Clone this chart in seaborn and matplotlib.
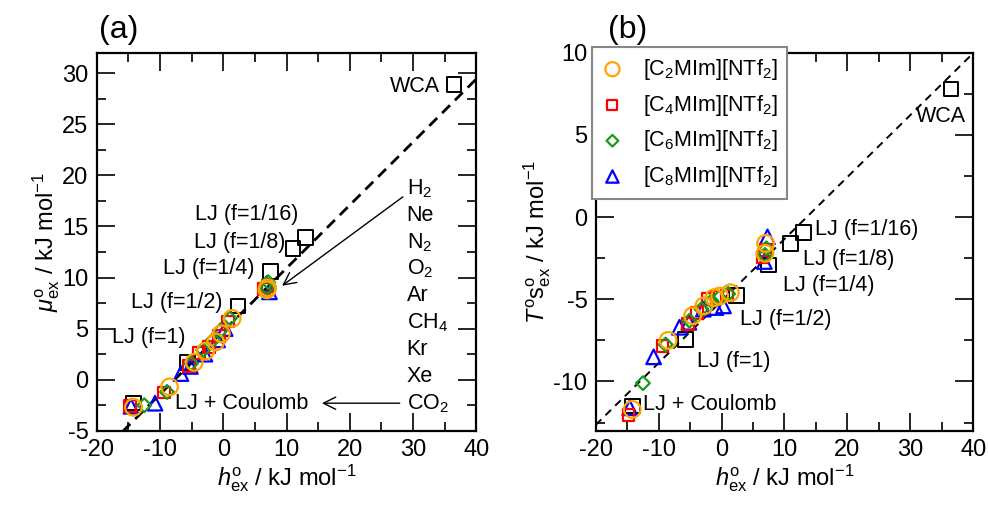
import matplotlib
matplotlib.use('Agg')
import numpy as np
import matplotlib.pyplot as plt
import seaborn as sns
from matplotlib.ticker import MultipleLocator


#%% Data

# solutes, in the order H2, Ne, N2, O2, Ar, CH4, Kr, Xe, CO2
solutes = ['H$_2$', 'Ne', 'N$_2$', 'O$_2$', 'Ar', 'CH$_4$', 'Kr', 'Xe', 'CO$_2$']

h_c2 = [7.0, 6.9, 1.4, -0.3, -1.2, -2.8, -4.6, -8.5, -14.2]
mu_c2 = [9.0, 8.8, 6.0, 4.5, 3.7, 2.8, 1.7, -0.7, -2.7]
ts_c2 = [-1.6, -2.2, -4.6, -4.8, -4.9, -5.4, -6.0, -7.5, -11.7]

h_c4 = [7.0, 6.5, 0.8, -0.7, -2.2, -3.9, -5.4, -9.4, -14.8]
mu_c4 = [9.2, 8.9, 5.7, 4.3, 3.2, 2.6, 1.35, -1.25, -2.6]
ts_c4 = [-2.0, -2.4, -4.77, -4.87, -4.97, -5.85, -6.5, -7.85, -12.05]

h_c6 = [7.1, 6.9, 1.05, -0.4, -1.6, -3.2, -5.1, -8.9, -12.5]
mu_c6 = [9.55, 9.0, 6.0, 4.85, 3.9, 2.9, 1.6, -1.2, -2.5]
ts_c6 = [-1.9, -2.3, -4.67, -4.9, -5.1, -5.6, -6.3, -7.75, -10.1]

h_c8 = [7.3, 6.8, 0.3, -0.9, -2.9, -5.2, -6.7, -10.8, -14.6]
mu_c8 = [8.6, 9.4, 5.0, 3.9, 2.5, 1.3, 0.6, -2.3, -2.6]
ts_c8 = [-1.2, -2.7, -5.4, -5.5, -5.6, -6.4, -6.7, -8.5, -11.6]

# model solutes (black squares)
lj_labels = ['WCA', 'LJ (f=1/16)', 'LJ (f=1/8)', 'LJ (f=1/4)', 'LJ (f=1/2)', 'LJ (f=1)', 'LJ + Coulomb']
h_lj = [36.5, 13.0, 11.0, 7.5, 2.35, -5.7, -14.2]
mu_lj = [28.9, 13.9, 12.85, 10.6, 7.2, 1.7, -2.3]
ts_lj = [7.8, -0.95, -1.6, -2.9, -4.77, -7.45, -11.5]

# dashed lines: intercept, slope
fit_mu = (4.75, 0.617)
fit_ts = (-5.1, 0.377)

il_labels = ['[C$_2$MIm][NTf$_2$]', '[C$_4$MIm][NTf$_2$]',
             '[C$_6$MIm][NTf$_2$]', '[C$_8$MIm][NTf$_2$]']


#%% Style

sns.set_style('ticks')
plt.rcParams['font.family'] = ['Liberation Sans', 'DejaVu Sans']
plt.rcParams['mathtext.fontset'] = 'custom'
plt.rcParams['mathtext.rm'] = 'Liberation Sans'
plt.rcParams['mathtext.it'] = 'Liberation Sans:italic'
plt.rcParams['mathtext.bf'] = 'Liberation Sans:bold'
plt.rcParams['axes.unicode_minus'] = False
plt.rcParams['text.color'] = 'black'
plt.rcParams['axes.labelcolor'] = 'black'

FS_TICK = 17
FS_TXT = 15.5

# drawing order: C8, C4, C6, C2 (orange on top)
series = [
    (il_labels[3], h_c8, mu_c8, ts_c8, '#0000ff', '^', 10.5),
    (il_labels[1], h_c4, mu_c4, ts_c4, '#ff0000', 's', 8.5),
    (il_labels[2], h_c6, mu_c6, ts_c6, '#1a9a1a', 'D', 7.0),
    (il_labels[0], h_c2, mu_c2, ts_c2, '#ffa500', 'o', 12.0),
]

fig = plt.figure(figsize=(9.88, 5.08), dpi=100)
ax_a = fig.add_axes([0.098, 0.152, 0.384, 0.744])
ax_b = fig.add_axes([0.603, 0.152, 0.382, 0.744])


def draw_panel(ax, yname, fit, ylim):
    sns.scatterplot(x=h_lj, y=(mu_lj if yname == 'mu' else ts_lj), ax=ax, marker='s',
                    s=10.5**2, facecolor='none', edgecolor='black', linewidth=1.4,
                    zorder=3)
    for label, h, mu, ts, col, mk, ms in series:
        sns.scatterplot(x=h, y=(mu if yname == 'mu' else ts), ax=ax, marker=mk,
                        s=ms**2, facecolor='none', edgecolor=col, linewidth=1.6,
                        label=label, zorder=4)
    xx = np.array([-20, 40])
    if yname == 'mu':
        ax.plot(xx, fit[0] + fit[1] * xx, ls=(0, (4, 2.5)), color='black', lw=2.0, zorder=2)
    else:
        ax.plot(xx, fit[0] + fit[1] * xx, ls=(0, (4, 3)), color='black', lw=1.4, zorder=2)
    ax.set_xlim(-20, 40)
    ax.set_ylim(*ylim)
    ax.xaxis.set_major_locator(MultipleLocator(10))
    ax.xaxis.set_minor_locator(MultipleLocator(5))
    ax.yaxis.set_major_locator(MultipleLocator(5))
    ax.yaxis.set_minor_locator(MultipleLocator(2.5))
    ax.tick_params(which='both', direction='in', top=True, right=True,
                   labelsize=FS_TICK, width=1.2, color='black', labelcolor='black')
    ax.tick_params(which='major', length=13, pad=6)
    ax.tick_params(which='minor', length=6.5)
    for sp in ax.spines.values():
        sp.set_linewidth(1.6)
        sp.set_color('black')
    ax.set_xlabel(r'$h^{\rm o}_{\rm ex}$ / kJ mol$^{-1}$', fontsize=FS_TICK, labelpad=1)
    if ax.get_legend() is not None:
        ax.get_legend().remove()


#%% Panel (a)

draw_panel(ax_a, 'mu', fit_mu, (-5, 32))
ax_a.set_ylabel(r'$\mu^{\rm o}_{\rm ex}$ / kJ mol$^{-1}$', fontsize=FS_TICK, labelpad=0)
ax_a.set_title('(a)', fontsize=23, pad=11, x=0.058)

txt_a = [(34.2, 28.7, 'right'), (11.8, 16.2, 'right'), (9.75, 13.4, 'right'),
         (5.0, 10.9, 'right'), (-0.2, 7.6, 'right'), (-6.05, 4.1, 'right'),
         (-7.6, -2.3, 'left')]
for (tx, ty, ha), lab in zip(txt_a, lj_labels):
    ax_a.text(tx, ty, lab, fontsize=FS_TXT, ha=ha, va='center')

for i, name in enumerate(solutes):
    ax_a.text(29.0, 18.7 - i * 2.625, name, fontsize=FS_TXT, ha='left', va='center')

ax_a.annotate('', xy=(9.3, 9.2), xytext=(28.4, 17.9),
              arrowprops=dict(arrowstyle='->', lw=1.0, color='black', mutation_scale=22,
                              shrinkA=0, shrinkB=0))
ax_a.annotate('', xy=(15.6, -2.3), xytext=(27.9, -2.3),
              arrowprops=dict(arrowstyle='->', lw=1.0, color='black', mutation_scale=22,
                              shrinkA=0, shrinkB=0))


#%% Panel (b)

draw_panel(ax_b, 'ts', fit_ts, (-13, 10))
ax_b.set_ylabel(r'$T^{\rm o}{\rm s}^{\rm o}_{\rm ex}$ / kJ mol$^{-1}$', fontsize=FS_TICK, labelpad=0)
ax_b.set_title('(b)', fontsize=23, pad=11, x=0.085)

txt_b = [(38.8, 6.1, 'right'), (14.9, -0.77, 'left'), (12.9, -2.6, 'left'),
         (9.8, -4.15, 'left'), (2.9, -6.2, 'left'), (-3.9, -8.8, 'left'),
         (-12.5, -11.4, 'left')]
for (tx, ty, ha), lab in zip(txt_b, lj_labels):
    ax_b.text(tx, ty, lab, fontsize=FS_TXT, ha=ha, va='center')

handles, labels = ax_b.get_legend_handles_labels()
order = [labels.index(l) for l in il_labels]
leg = ax_b.legend([handles[i] for i in order], [labels[i] for i in order],
                  loc='upper left', bbox_to_anchor=(-0.01, 1.015), borderaxespad=0,
                  fontsize=FS_TXT, frameon=True, fancybox=False, framealpha=1,
                  edgecolor='#888888', labelspacing=0.5, handlelength=1.0,
                  handletextpad=0.9, borderpad=0.45, markerscale=0.85)
leg.get_frame().set_linewidth(1.5)

fig.savefig('out.png', dpi=100)
